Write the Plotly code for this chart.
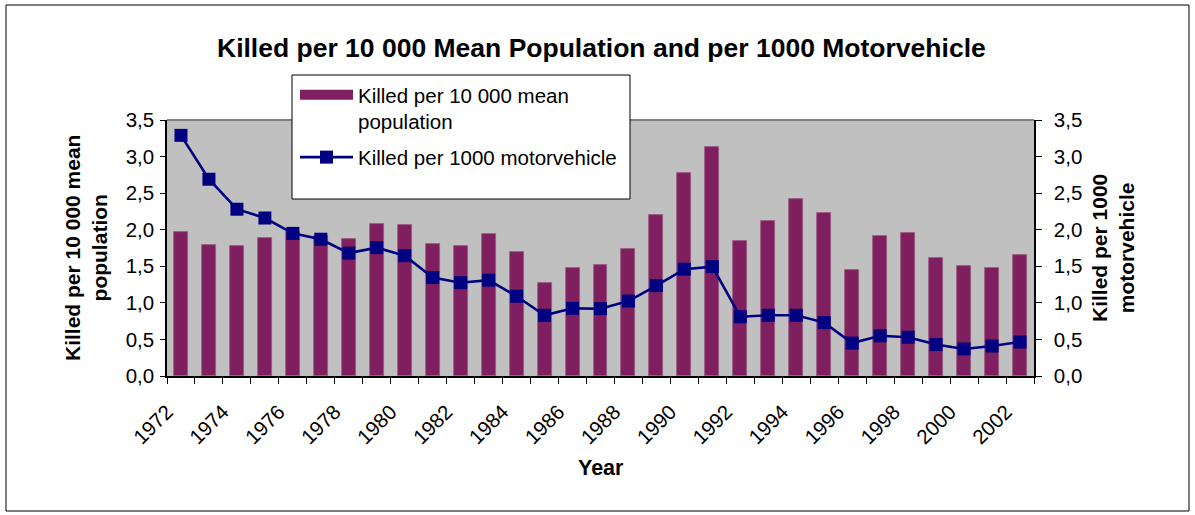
import plotly.graph_objects as go

# ---- data ----
years = list(range(1972, 2003))
killed_per_10000_pop = [1.97, 1.79, 1.78, 1.88, 1.97, 1.92, 1.87, 2.08, 2.07, 1.80,
                        1.78, 1.945, 1.69, 1.27, 1.47, 1.52, 1.74, 2.20, 2.78, 3.135,
                        1.85, 2.115, 2.42, 2.23, 1.455, 1.92, 1.96, 1.61, 1.50, 1.47, 1.66]
killed_per_1000_mv = [3.29, 2.69, 2.28, 2.16, 1.95, 1.87, 1.68, 1.755, 1.645, 1.345,
                      1.276, 1.31, 1.09, 0.83, 0.925, 0.92, 1.025, 1.235, 1.46, 1.495,
                      0.81, 0.83, 0.83, 0.73, 0.45, 0.55, 0.53, 0.43, 0.37, 0.41, 0.465]
label_years = years[::2]
y_ticks = [0, 0.5, 1, 1.5, 2, 2.5, 3, 3.5]

FONT = "Liberation Sans, Arial, sans-serif"
BAR_COLOR = "#7F1F5F"
LINE_COLOR = "#000080"
W_PX, H_PX = 1195, 515
L, R, T, B = 167, 1034, 120, 376
PW, PH = R - L, B - T


def px(x):
    return (x - L) / PW


def py(y):
    return (B - y) / PH


fig = go.Figure()
fig.add_trace(go.Bar(
    x=years, y=killed_per_10000_pop, name="Killed per 10 000 mean<br>population",
    width=0.5, marker=dict(color=BAR_COLOR, line=dict(color="#9A5A84", width=0.8)),
    yaxis="y", showlegend=False,
))
# legend-only entry giving the bar series a wide swatch like the original
fig.add_trace(go.Scatter(
    x=[None], y=[None], name="Killed per 10 000 mean<br>population",
    mode="lines", line=dict(color=BAR_COLOR, width=10), legendgroup="bars",
    yaxis="y", hoverinfo="skip",
))
fig.add_trace(go.Scatter(
    x=years, y=killed_per_1000_mv, name="Killed per 1000 motorvehicle",
    mode="lines+markers", line=dict(color=LINE_COLOR, width=2.6),
    marker=dict(symbol="square", size=13, color=LINE_COLOR),
    yaxis="y2", legendgroup="line",
))

axis_font = dict(family=FONT, size=20.5, color="black")

fig.update_layout(
    width=W_PX, height=H_PX,
    margin=dict(l=L, r=W_PX - R, t=T, b=H_PX - B, pad=0),
    paper_bgcolor="white", plot_bgcolor="#C0C0C0",
    separators=", ",
    font=dict(family=FONT, color="black"),
    bargap=0,
    xaxis=dict(
        range=[1971.5, 2002.5], tickmode="array", tickvals=label_years,
        ticktext=[str(y) for y in label_years], tickangle=-45, tickfont=axis_font,
        ticks="", showline=True, linecolor="black", linewidth=1.5, showgrid=False,
        zeroline=False, ticklabelstandoff=14, ticklabelshift=-14,
        minor=dict(tickvals=[y - 0.5 for y in years] + [years[-1] + 0.5],
                   ticks="outside", ticklen=6, tickcolor="black", tickwidth=1, showgrid=False),
    ),
    yaxis=dict(
        range=[0, 3.5], tickmode="array", tickvals=y_ticks, tickformat=".1f",
        tickfont=axis_font, ticks="outside", ticklen=5, tickcolor="black",
        showline=True, linecolor="black", linewidth=1.5, showgrid=False, zeroline=False,
        ticklabelstandoff=2,
    ),
    yaxis2=dict(
        range=[0, 3.5], tickmode="array", tickvals=y_ticks, tickformat=".1f",
        tickfont=axis_font, ticks="outside", ticklen=6, tickcolor="black",
        showline=True, linecolor="black", linewidth=1.5, showgrid=False, zeroline=False,
        overlaying="y", side="right", ticklabelstandoff=8,
    ),
    showlegend=True,
    legend=dict(
        x=px(295), y=py(75), xanchor="left", yanchor="top",
        bgcolor="rgba(0,0,0,0)", borderwidth=0,
        font=dict(family=FONT, size=20.5, color="black"),
        itemwidth=53, valign="top", tracegroupgap=6, traceorder="grouped",
    ),
    shapes=[
        # outer chart border
        dict(type="rect", xref="paper", yref="paper", x0=px(6), x1=px(1189), y0=py(511), y1=py(5),
             line=dict(color="black", width=1), layer="below"),
        # gray top edge of plot area
        dict(type="line", xref="paper", yref="paper", x0=0, x1=1, y0=1, y1=1,
             line=dict(color="#808080", width=2)),
        # legend box
        dict(type="rect", xref="paper", yref="paper", x0=px(292), x1=px(630), y0=py(199), y1=py(75),
             fillcolor="white", line=dict(color="black", width=1), layer="above"),
    ],
    annotations=[
        dict(text="<b>Killed per 10 000 Mean Population and per 1000 Motorvehicle</b>",
             xref="paper", yref="paper", x=px(601.5), y=py(48), showarrow=False,
             xanchor="center", yanchor="middle", font=dict(family=FONT, size=26.5, color="black")),
        dict(text="<b>Killed per 10 000 mean<br>population</b>", textangle=-90,
             xref="paper", yref="paper", x=px(86), y=py(248), showarrow=False,
             xanchor="center", yanchor="middle", font=dict(family=FONT, size=21, color="black")),
        dict(text="<b>Killed per 1000<br>motorvehicle</b>", textangle=-90,
             xref="paper", yref="paper", x=px(1113), y=py(248), showarrow=False,
             xanchor="center", yanchor="middle", font=dict(family=FONT, size=21, color="black")),
        dict(text="<b>Year</b>", xref="paper", yref="paper", x=px(601), y=py(468),
             showarrow=False, xanchor="center", yanchor="middle",
             font=dict(family=FONT, size=21.5, color="black")),
    ],
)

fig.write_html("out.html", config={"displayModeBar": False},
               post_script="document.body.style.margin='0px';")
